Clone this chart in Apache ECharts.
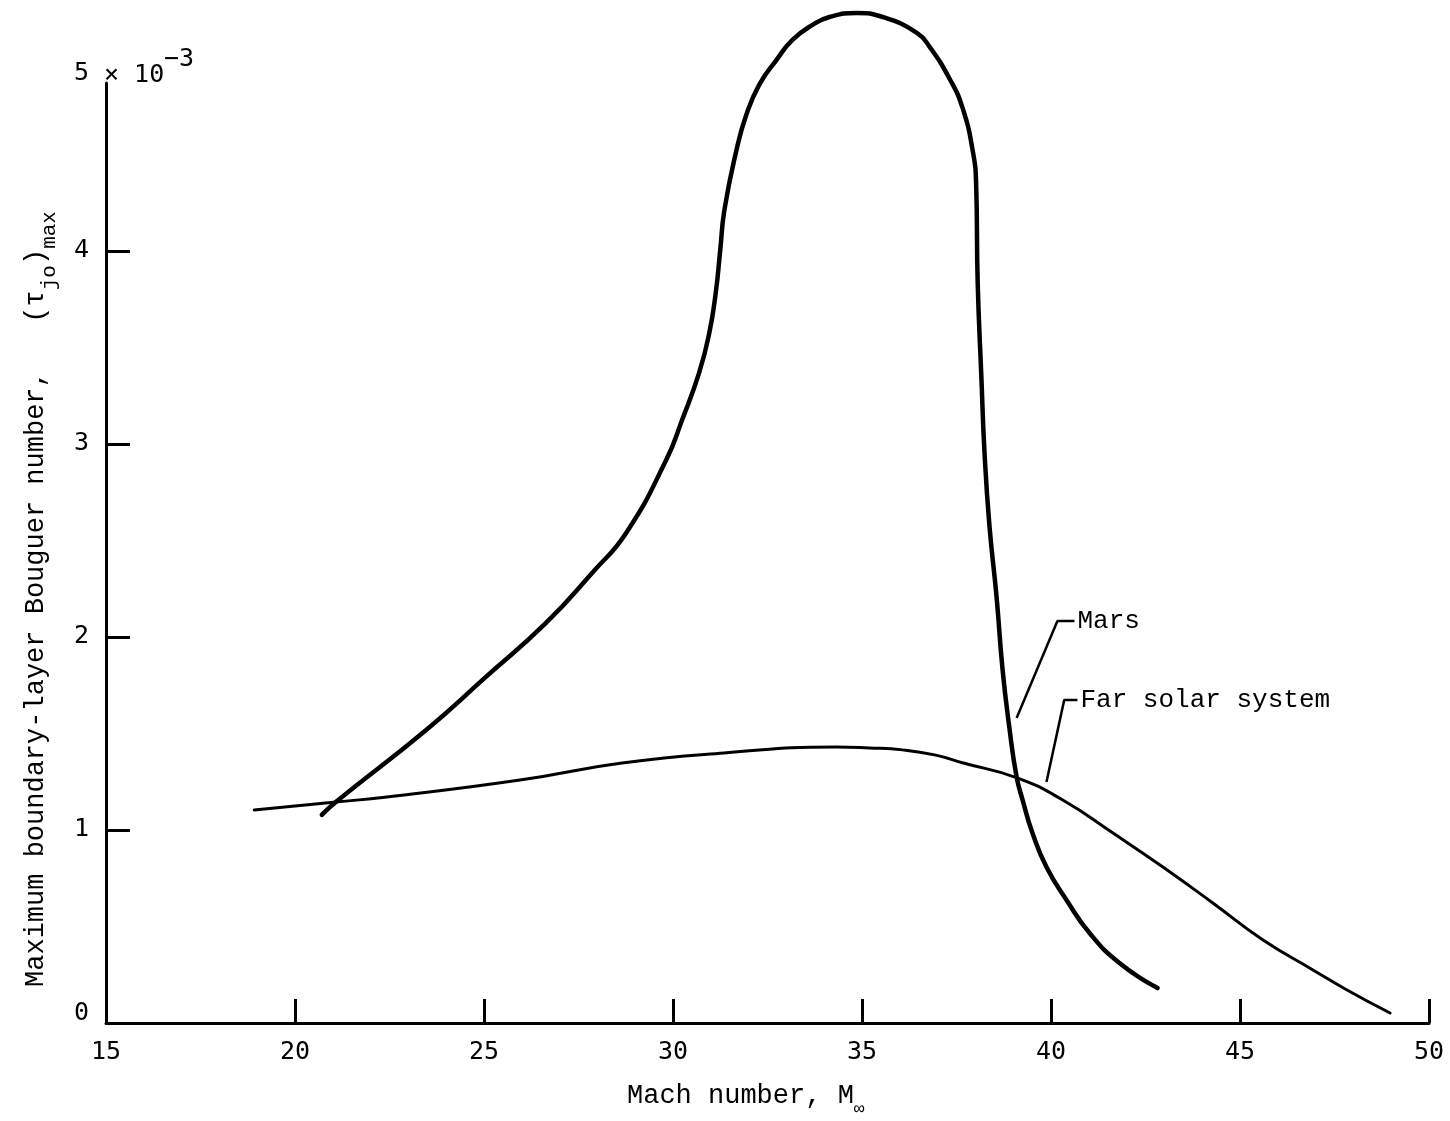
<!DOCTYPE html>
<html>
<head>
<meta charset="utf-8">
<script src="https://cdn.jsdelivr.net/npm/echarts@6.0.0/dist/echarts.min.js"></script>
<style>
  html, body { margin: 0; padding: 0; background: #fff; }
  #chart { width: 1450px; height: 1121px; }
</style>
</head>
<body>
<div id="chart"></div>
<script>
// Axis ticks and labels
const machTicks = [15, 20, 25, 30, 35, 40, 45, 50];
const bouguerTicks = [0, 1, 2, 3, 4];
const bouguerTopLabel = '5';
const bouguerScaleText = '× 10';
const bouguerExponent = '−3';
const bouguerTop = 4.87;   // top of the drawn ordinate (just under the 5 mark)

// Maximum boundary-layer Bouguer number (units of 1e-3) vs Mach number
const marsMach = [20.71, 21.08, 23.47, 25.05, 26.64, 27.86, 28.76, 29.82, 30.24,
  30.69, 30.96, 31.13, 31.25, 31.36, 31.68, 31.94, 32.28, 32.74,
  33.16, 33.69, 34.14, 34.86, 35.55, 36.45, 36.79, 37.32, 37.66, 37.93,
  38.02, 38.06, 38.16, 38.24, 38.37, 38.56, 38.72, 38.90, 39.09, 39.25,
  39.51, 39.88, 40.41, 41.02, 41.81, 42.82];
const marsTau = [1.078, 1.145, 1.518, 1.793, 2.073, 2.332, 2.539, 2.917, 3.124,
  3.368, 3.575, 3.782, 4.005, 4.212, 4.523, 4.705, 4.860, 4.990,
  5.093, 5.171, 5.212, 5.233, 5.212, 5.130, 5.057, 4.891, 4.741, 4.518,
  4.342, 3.839, 3.337, 2.959, 2.580, 2.207, 1.829, 1.528, 1.275, 1.155,
  0.984, 0.808, 0.637, 0.466, 0.311, 0.181];

const farMach = [18.92, 21.08, 22.43, 25.95, 28.65, 31.35, 34.32, 35.19, 36.07, 36.92,
  37.68, 39.12, 40.31, 41.64, 42.96, 44.28, 45.61, 46.93, 47.83, 48.97];
const farTau = [1.104, 1.145, 1.171, 1.259, 1.347, 1.399, 1.430, 1.425, 1.415, 1.389,
  1.347, 1.269, 1.155, 0.984, 0.808, 0.622, 0.430, 0.275, 0.171, 0.052];

// Leader lines from each curve to its name
const marsLeaderMach = [39.09, 40.17, 40.62];
const marsLeaderTau = [1.58, 2.083, 2.083];
const farLeaderMach = [39.88, 40.35, 40.70];
const farLeaderTau = [1.249, 1.674, 1.674];

const curveNames = ['Mars', 'Far solar system'];

const zip = (xs, ys) => xs.map((x, i) => [x, ys[i]]);

const INK = '#000';
const NUM_FONT = '"DejaVu Sans Mono", monospace';
const TYPE_FONT = '"Liberation Mono", "Courier New", monospace';

const chart = echarts.init(document.getElementById('chart'), null, { renderer: 'canvas' });

const option = {
  animation: false,
  backgroundColor: '#fff',
  grid: { left: 106, right: 21, top: 83, bottom: 98, containLabel: false, outerBoundsMode: 'none' },
  xAxis: {
    type: 'value',
    min: 15, max: 50, interval: 5,
    axisLine: { lineStyle: { color: INK, width: 3 } },
    axisTick: { inside: true, length: 24, lineStyle: { color: INK, width: 3 }, customValues: machTicks.slice(1) },
    axisLabel: {
      color: INK, fontFamily: NUM_FONT, fontSize: 25, margin: 17,
      customValues: machTicks
    },
    splitLine: { show: false }
  },
  yAxis: {
    type: 'value',
    min: 0, max: bouguerTop, interval: 1,
    axisLine: { lineStyle: { color: INK, width: 3 } },
    axisTick: { inside: true, length: 24, lineStyle: { color: INK, width: 3 }, customValues: bouguerTicks.slice(1) },
    axisLabel: {
      color: INK, fontFamily: NUM_FONT, fontSize: 25, margin: 17,
      customValues: bouguerTicks,
      formatter: v => (v === 0 ? '{lift|0}' : String(v)),
      rich: { lift: { fontFamily: NUM_FONT, fontSize: 25, color: INK, padding: [0, 0, 20, 0] } }
    },
    splitLine: { show: false }
  },
  series: [
    {
      type: 'line', name: curveNames[0], data: zip(marsMach, marsTau),
      symbol: 'none', smooth: 0.5, clip: false,
      lineStyle: { color: INK, width: 4.5, cap: 'round', join: 'round' }
    },
    {
      type: 'line', name: curveNames[1], data: zip(farMach, farTau),
      symbol: 'none', smooth: 0.5, clip: false,
      lineStyle: { color: INK, width: 3, cap: 'round', join: 'round' }
    },
    {
      type: 'line', name: curveNames[0] + ' leader', data: zip(marsLeaderMach, marsLeaderTau),
      symbol: 'none', clip: false,
      lineStyle: { color: INK, width: 2.5 },
      endLabel: { show: true, formatter: () => curveNames[0], color: INK, fontFamily: TYPE_FONT, fontSize: 26, distance: 3 }
    },
    {
      type: 'line', name: curveNames[1] + ' leader', data: zip(farLeaderMach, farLeaderTau),
      symbol: 'none', clip: false,
      lineStyle: { color: INK, width: 2.5 },
      endLabel: { show: true, formatter: () => curveNames[1], color: INK, fontFamily: TYPE_FONT, fontSize: 26, distance: 3 }
    }
  ],
  graphic: [
    {
      type: 'text', x: 89, y: 73,
      style: { text: bouguerTopLabel, fill: INK, font: '25px ' + NUM_FONT, align: 'right', verticalAlign: 'middle', textAlign: 'right', textVerticalAlign: 'middle' }
    },
    {
      type: 'text', x: 104, y: 75,
      style: { text: bouguerScaleText, fill: INK, font: '25px ' + NUM_FONT, align: 'left', verticalAlign: 'middle', textAlign: 'left', textVerticalAlign: 'middle' }
    },
    {
      type: 'text', x: 164, y: 59,
      style: { text: bouguerExponent, fill: INK, font: '25px ' + NUM_FONT, align: 'left', verticalAlign: 'middle', textAlign: 'left', textVerticalAlign: 'middle' }
    },
    {
      type: 'text', x: 627, y: 1100,
      style: {
        text: '{a|Mach number, M}{s|∞}',
        align: 'left', verticalAlign: 'middle', textAlign: 'left', textVerticalAlign: 'middle',
        rich: {
          a: { fontFamily: TYPE_FONT, fontSize: 27, color: INK, lineHeight: 36, verticalAlign: 'top' },
          s: { fontFamily: TYPE_FONT, fontSize: 18, color: INK, lineHeight: 18, verticalAlign: 'bottom' }
        }
      }
    },
    {
      type: 'text', x: 41, y: 599, rotation: Math.PI / 2,
      style: {
        text: '{a|Maximum boundary-layer Bouguer number,   (τ}{s|jo}{a|)}{m|max}',
        align: 'center', verticalAlign: 'middle', textAlign: 'center', textVerticalAlign: 'middle',
        rich: {
          a: { fontFamily: TYPE_FONT, fontSize: 27, color: INK, lineHeight: 38, verticalAlign: 'top' },
          s: { fontFamily: TYPE_FONT, fontSize: 21, color: INK, lineHeight: 26, verticalAlign: 'bottom' },
          m: { fontFamily: TYPE_FONT, fontSize: 21, color: INK, lineHeight: 22, verticalAlign: 'bottom' }
        }
      }
    }
  ]
};

chart.setOption(option);
</script>
</body>
</html>
